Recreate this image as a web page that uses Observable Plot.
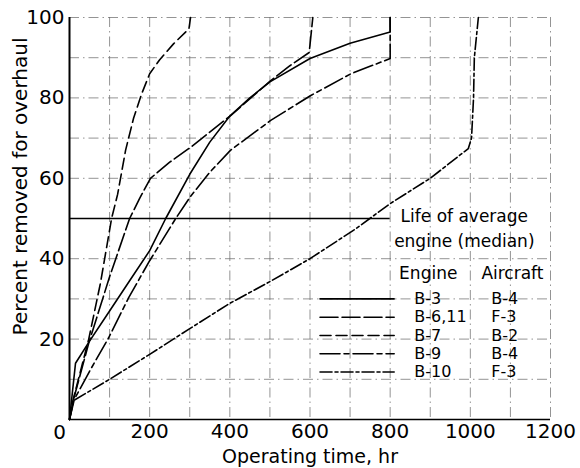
<!DOCTYPE html>
<html><head><meta charset="utf-8">
<script src="https://cdn.jsdelivr.net/npm/d3@7"></script>
<script src="https://cdn.jsdelivr.net/npm/@observablehq/plot@0.6"></script>
<style>
body{margin:0;background:#fff}
#chart svg{display:block}
</style>
</head><body><div id="chart"></div>
<script>
// ---- tick labels / grid ----
const xTicks = [200, 400, 600, 800, 1000, 1200];
const yTicks = [20, 40, 60, 80, 100];
const xGrid = [100, 200, 300, 400, 500, 600, 700, 800, 900, 1000, 1100, 1200];
const yGrid = [10, 20, 30, 40, 60, 70, 80, 90, 100];
const medianLevel = 50;
const medianEnd = 800;

// ---- legend ----
const engines = ["B-3", "B-6,11", "B-7", "B-9", "B-10"];
const aircraft = ["B-4", "F-3", "B-2", "B-4", "F-3"];

// ---- series: [operating time hr, percent removed] ----
const b3 = [[0,0],[15,14],[50,19.5],[100,27],[150,34.5],[200,42],[240,50],[300,61],[350,69],[400,75.5],[450,80],[500,84],[600,89.8],[700,93.6],[800,96.4],[800,100]];
const b611 = [[0,0],[10,5],[48,19],[100,35.5],[150,50],[175,55],[202,60],[250,64],[302,67.7],[402,75.6],[502,84.3],[550,88],[598,91.3],[607,100]];
const b7 = [[0,0],[8,4.5],[30,13],[48,20],[77,33.8],[105,50],[120,56],[140,67],[160,75],[180,81],[200,86],[225,89.5],[260,93.5],[298,97.2],[302,100]];
const b9 = [[0,0],[12,5],[50,12],[98,20.4],[148,30.4],[200,39.5],[265,50],[302,55.5],[350,61.5],[402,67],[502,74.4],[602,80.6],[702,86],[800,89.8],[800,100]];
const b10 = [[0,0],[10,4.7],[100,10],[200,16.2],[300,22.6],[400,28.9],[500,34.3],[600,40],[715,47.5],[800,53.7],[900,60],[995,67.4],[1003,70],[1008,80],[1010,90],[1020,100]];

const seriesList = [b3, b611, b7, b9, b10];
const dashes = ["none", "18,4", "11,5", "20,4,5,4", "12,3,3,3"];

const font = "DejaVu Sans";
const marks = [];

// grid
marks.push(Plot.ruleX(xGrid, {stroke: "#666", strokeWidth: 0.7, strokeDasharray: "10,4,1.5,4"}));
marks.push(Plot.ruleY(yGrid, {stroke: "#666", strokeWidth: 0.7, strokeDasharray: "10,4,1.5,4"}));
// axes lines
marks.push(Plot.ruleX([0], {stroke: "#000", strokeWidth: 2}));
marks.push(Plot.ruleY([0], {stroke: "#000", strokeWidth: 1.6}));
// median line
marks.push(Plot.ruleY([medianLevel], {x1: 0, x2: medianEnd, stroke: "#000", strokeWidth: 1.4}));

// curves
seriesList.forEach((s, i) => {
  marks.push(Plot.line(s, {x: d => d[0], y: d => d[1], stroke: "#000", strokeWidth: 1.6, strokeDasharray: dashes[i], curve: "linear"}));
});

// annotation
marks.push(Plot.text(["Life of average", "engine (median)"], {
  x: 985, y: (d, i) => 50.6 - i * 6.3, text: d => d, fontSize: 17, fontFamily: font, textAnchor: "middle"
}));

// legend header
marks.push(Plot.text(["Engine", "Aircraft"], {
  x: (d, i) => i ? 1105 : 895, y: 36.3, text: d => d, fontSize: 17, fontFamily: font, textAnchor: "middle"
}));
const rowY = i => 30 - i * 4.55;
engines.forEach((e, i) => {
  marks.push(Plot.line([[625, rowY(i)], [810, rowY(i)]], {x: d => d[0], y: d => d[1], stroke: "#000", strokeWidth: 1.6, strokeDasharray: dashes[i]}));
});
marks.push(Plot.text(engines, {x: 860, y: (d, i) => rowY(i), text: d => d, fontSize: 16, fontFamily: font, textAnchor: "start"}));
marks.push(Plot.text(aircraft, {x: 1052, y: (d, i) => rowY(i), text: d => d, fontSize: 16, fontFamily: font, textAnchor: "start"}));

// corner zero
marks.push(Plot.text(["0"], {x: 0, y: 0, text: d => d, dx: -10, dy: 13, fontSize: 20, fontFamily: font}));

// axes
marks.push(Plot.axisX(xTicks, {tickSize: 0, tickPadding: 4, fontSize: 20, fontFamily: font, tickFormat: d => String(d), label: null}));
marks.push(Plot.axisY(yTicks, {tickSize: 0, tickPadding: 5, fontSize: 20, fontFamily: font, tickFormat: d => String(d), label: null}));

// axis titles
marks.push(Plot.text(["Operating time, hr"], {frameAnchor: "bottom", textAnchor: "middle", lineAnchor: "middle", text: d => d, dy: 37, fontSize: 19, fontFamily: font}));
marks.push(Plot.text(["Percent removed for overhaul"], {frameAnchor: "left", textAnchor: "middle", lineAnchor: "middle", text: d => d, rotate: -90, dx: -49, dy: -32, fontSize: 20, fontFamily: font}));

const chart = Plot.plot({
  width: 580, height: 468,
  marginTop: 17, marginRight: 30, marginBottom: 49, marginLeft: 69,
  x: {domain: [0, 1200]},
  y: {domain: [0, 100]},
  style: {fontFamily: font, color: "#000", background: "#fff", overflow: "visible"},
  marks
});
document.getElementById("chart").appendChild(chart);
</script>
</body></html>
